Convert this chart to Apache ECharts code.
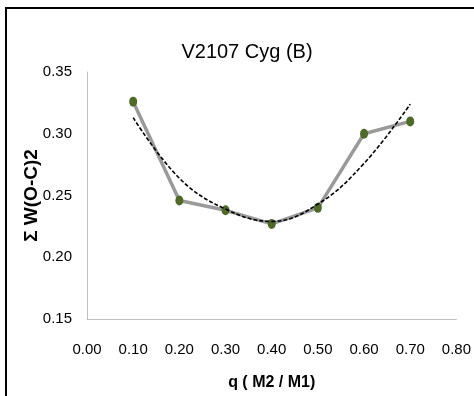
<!DOCTYPE html>
<html>
<head>
<meta charset="utf-8">
<script src="https://cdn.jsdelivr.net/npm/echarts@6/dist/echarts.min.js"></script>
<style>
  html, body { margin: 0; padding: 0; background: #fff; }
  #chart { width: 474px; height: 396px; }
</style>
</head>
<body>
<div id="chart"></div>
<script>
// mass ratio q = M2/M1 and the residual sum for each trial
const qValues = [0.1, 0.2, 0.3, 0.4, 0.5, 0.6, 0.7];
const sumWOC = [0.326, 0.246, 0.238, 0.227, 0.240, 0.300, 0.310];
// polynomial trend line
const trendValues = [0.313, 0.264, 0.239, 0.229, 0.243, 0.276, 0.324];

const font = "'Liberation Sans', Arial, sans-serif";

const chart = echarts.init(document.getElementById("chart"));

chart.setOption({
  backgroundColor: "#fff",
  animation: false,
  title: {
    text: "V2107 Cyg (B)",
    left: 242,
    top: 37,
    textAlign: "center",
    textStyle: { fontFamily: font, fontSize: 20, fontWeight: "normal", color: "#000" },
  },
  graphic: [
    {
      type: "rect",
      shape: { x: 6, y: 8, width: 600, height: 600 },
      style: { fill: "none", stroke: "#000", lineWidth: 2 },
      silent: true,
    },
  ],
  grid: { left: 87, right: 17, top: 72, bottom: 74 },
  xAxis: {
    type: "value",
    min: 0,
    max: 0.8,
    interval: 0.1,
    name: "q ( M2 / M1)",
    nameLocation: "middle",
    nameGap: 56,
    nameMoveOverlap: false,
    nameTextStyle: { fontFamily: font, fontSize: 16, fontWeight: "bold", color: "#000" },
    axisLine: { show: true, lineStyle: { color: "#bfbfbf", width: 1 } },
    axisTick: { show: false },
    splitLine: { show: false },
    axisLabel: {
      margin: 23,
      fontFamily: font,
      fontSize: 15,
      color: "#000",
      formatter: (v) => v.toFixed(2),
    },
  },
  yAxis: {
    type: "value",
    min: 0.15,
    max: 0.35,
    interval: 0.05,
    name: "Σ W(O-C)2",
    nameLocation: "middle",
    nameGap: 46,
    nameMoveOverlap: false,
    nameTextStyle: { fontFamily: font, fontSize: 19, fontWeight: "bold", color: "#000" },
    axisLine: { show: true, lineStyle: { color: "#bfbfbf", width: 1 } },
    axisTick: { show: false },
    splitLine: { show: false },
    axisLabel: {
      margin: 15,
      fontFamily: font,
      fontSize: 15,
      color: "#000",
      formatter: (v) => v.toFixed(2),
    },
  },
  series: [
    {
      name: "ΣW(O-C)2",
      type: "line",
      data: qValues.map((q, i) => [q, sumWOC[i]]),
      lineStyle: { color: "#9a9a9a", width: 3.5 },
      itemStyle: { color: "#4f6a27" },
      symbol: "circle",
      symbolSize: [8, 10],
      z: 2,
    },
    {
      name: "Trend",
      type: "line",
      data: qValues.map((q, i) => [q, trendValues[i]]),
      smooth: 0.4,
      showSymbol: false,
      lineStyle: { color: "#000", width: 1.6, type: [4, 2] },
      z: 3,
    },
  ],
});
</script>
</body>
</html>
